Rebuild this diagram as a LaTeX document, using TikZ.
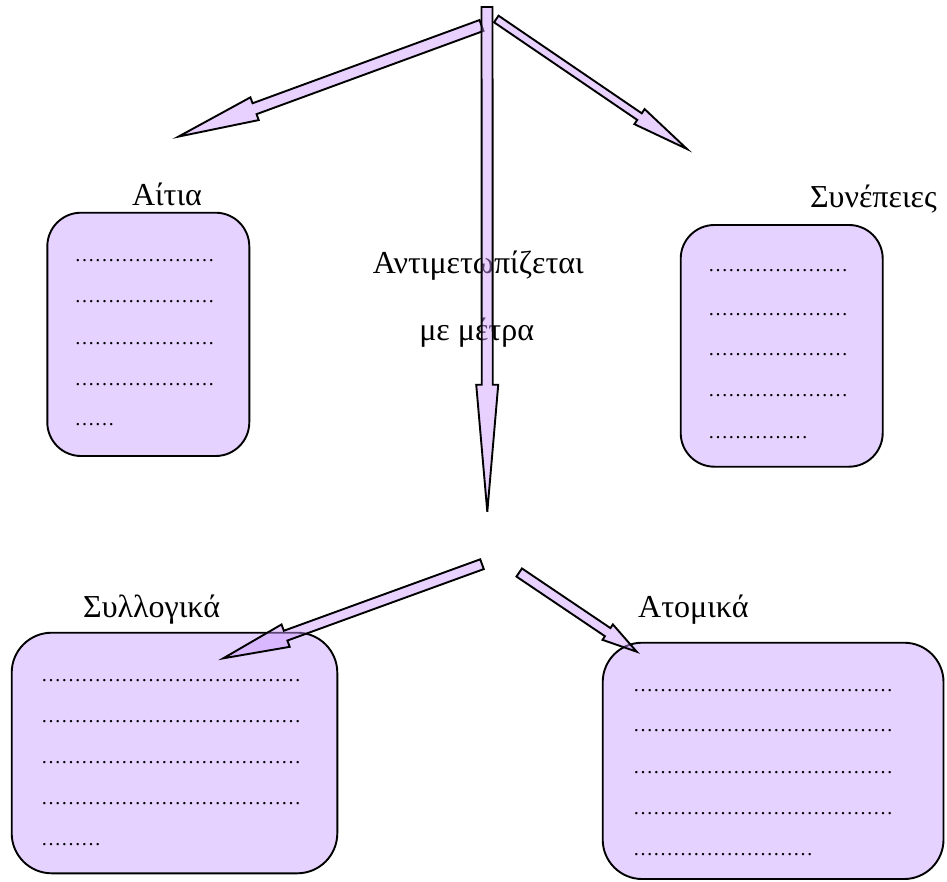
\documentclass[tikz,border=0pt]{standalone}
\usepackage{fontspec}
\setmainfont{Liberation Serif}
\usetikzlibrary{calc}
\definecolor{boxfill}{RGB}{230,210,255}
\definecolor{arrfill}{RGB}{204,153,255}
\newcount\mydotcnt
\newcommand\dotsn[1]{\mydotcnt=0 \loop\ifnum\mydotcnt<#1 …\advance\mydotcnt by 1 \repeat}
% tail, tip, shaft half width, head half width, head length
\newcommand\blockarrow[5]{%
  \coordinate (#1base) at ($(#2)!#5!(#1)$);
  \draw[blockarr]
    ($(#1)!#3!90:(#2)$) -- ($(#1base)!#3!90:(#2)$) -- ($(#1base)!#4!90:(#2)$) --
    (#2) -- ($(#1base)!#4!-90:(#2)$) -- ($(#1base)!#3!-90:(#2)$) --
    ($(#1)!#3!-90:(#2)$) -- cycle;}
\begin{document}
\begin{tikzpicture}[x=1pt,y=-1pt,
  box/.style={draw=black, line width=1.9pt, fill=boxfill, inner sep=0pt},
  blockarr/.style={draw=black, line width=1.9pt, fill=arrfill, fill opacity=0.45, line join=miter},
  lbl/.style={inner sep=0pt, anchor=base, font=\fontsize{32}{38}\selectfont},
  dotline/.style={inner sep=0pt, anchor=base west, font=\fontsize{20}{24}\selectfont}]
\useasboundingbox (0,0) rectangle (947,881);

% boxes
\node[box, minimum width=202pt, minimum height=243.3pt, rounded corners=33.7pt] (aitia) at (148.3,334.35) {};
\node[box, minimum width=202pt, minimum height=241.7pt, rounded corners=33.7pt] (synep) at (781.7,345.85) {};
\node[box, minimum width=325.6pt, minimum height=240.6pt, rounded corners=40pt] (syllog) at (174.5,753) {};
\node[box, minimum width=340.8pt, minimum height=236.3pt, rounded corners=39.4pt] (atom) at (773.1,760.85) {};

% labels
\node[lbl] (laitia) at (167,205) {Αίτια};
\node[lbl, anchor=base east] (lsynep) at (937,207) {Συνέπειες};
\node[lbl, anchor=base west] (lsyllog) at (83,617) {Συλλογικά};
\node[lbl, anchor=base west] (latom) at (638,617) {Ατομικά};
\node[lbl] (mid1) at (478.3,273) {Αντιμετωπίζεται};
\node[lbl] (mid2) at (476.7,340) {με μέτρα};

% dotted lines
\foreach \y/\n [count=\i] in {261.5/7, 302.5/7, 344/7, 385/7, 425.5/2}
  \node[dotline] (a\i) at (74.5,\y) {\dotsn{\n}};
\foreach \y/\n [count=\i] in {271.5/7, 315/7, 355/7, 396.5/7, 438/5}
  \node[dotline] (s\i) at (708,\y) {\dotsn{\n}};
\foreach \y/\n [count=\i] in {681.5/13, 722/13, 763/13, 804/13, 845.5/3}
  \node[dotline] (c\i) at (41,\y) {\dotsn{\n}};
\foreach \y/\n [count=\i] in {691/13, 731.5/13, 773.5/13, 814/13, 855/9}
  \node[dotline] (p\i) at (633,\y) {\dotsn{\n}};

% arrows
\coordinate (vt) at (487,7);       \coordinate (vh) at (487.3,511.7);
\coordinate (lt) at (481.5,25.5);  \coordinate (lh) at (178.5,136.6);
\coordinate (rt) at (496.3,19);    \coordinate (rh) at (687,149);
\coordinate (blt) at (482,564.2);  \coordinate (blh) at (223.3,658.3);
\coordinate (brt) at (519.2,572.5);\coordinate (brh) at (636.7,651.7);

\blockarrow{lt}{lh}{5.8pt}{12.1pt}{81pt}
\blockarrow{rt}{rh}{4pt}{9.1pt}{57.5pt}
\blockarrow{vt}{vh}{5.5pt}{11pt}{127pt}
\blockarrow{blt}{blh}{5.2pt}{11.9pt}{66.3pt}
\blockarrow{brt}{brh}{4.9pt}{9.3pt}{35pt}
\end{tikzpicture}
\end{document}
